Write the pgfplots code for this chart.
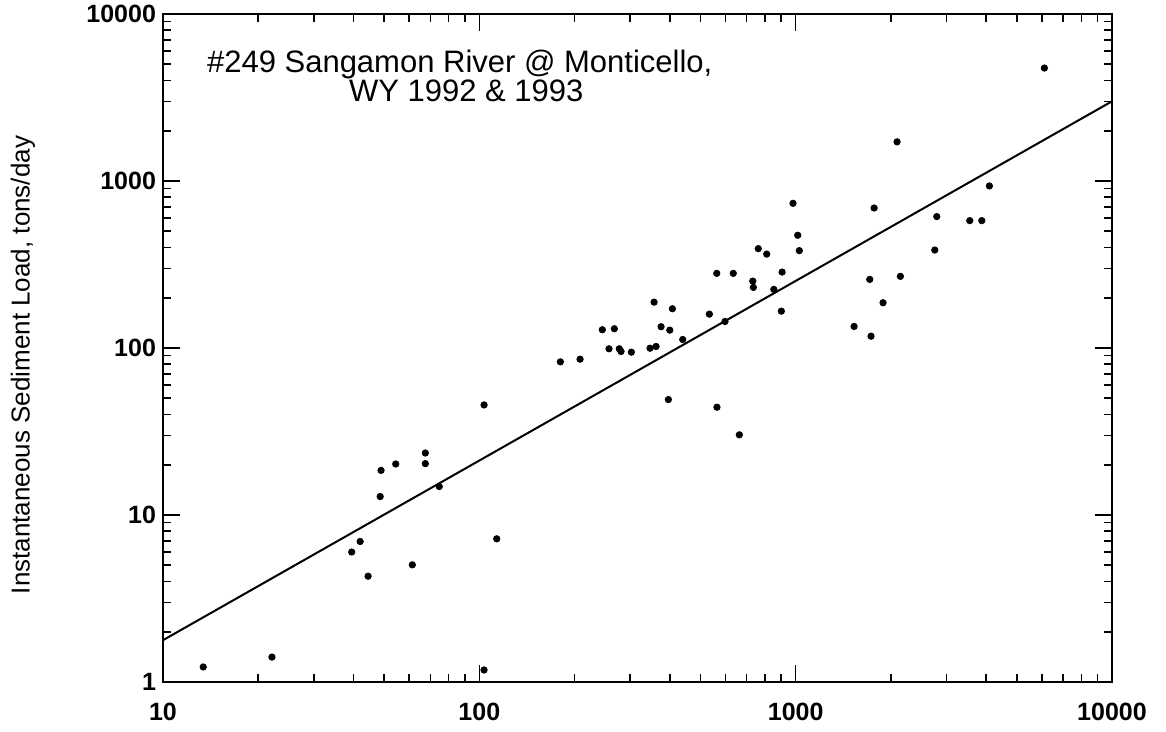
\documentclass[border=0pt]{standalone}
\usepackage{fontspec}
\setmainfont{Liberation Sans}
\usepackage{pgfplots}
\usepackage{pgfplotstable}
\pgfplotsset{compat=1.18}

% discharge (x) vs. instantaneous sediment load (y)
\pgfplotstableread{
x y
13.4 1.23
22.1 1.41
39.5 6.0
42.0 6.94
44.5 4.30
48.6 12.9
48.9 18.5
54.4 20.2
61.4 5.03
67.5 23.5
67.5 20.3
74.7 14.8
103.5 45.6
103.5 1.18
113.5 7.20
180.4 82.6
208.2 85.7
244.8 128.6
257 98.9
267.2 130.4
277 98.9
280.5 95.3
302.4 94.4
346.5 99.7
356.8 188.2
362 102.1
375.4 134.1
395.9 49.1
400 127.9
407.6 171.8
439.5 112.4
533.6 159.5
563 279.8
564 44.2
598 144.1
635 279.8
663.7 30.2
732 251.5
735 230.6
762 393.5
810 365
853 224.3
901 166.2
906 284.8
981 735
1015 473
1027 382.8
1530 134.6
1715 257.5
1731 117.7
1770 689
1889 186.6
2092 1715
2143 268.5
2753 386
2793 612
3552 579
3877 579
4097 934
6113 4745
}\loaddata

\begin{document}
\begin{tikzpicture}
  \begin{loglogaxis}[
      at={(0,0)}, anchor=south west,
      scale only axis,
      width=474.5pt, height=334pt,
      xmin=10, xmax=10000,
      ymin=1, ymax=10000,
      log ticks with fixed point,
      /pgf/number format/1000 sep={},
      /pgf/number format/assume math mode=true,
      tick align=inside,
      major tick length=8.5pt,
      minor tick length=4pt,
      every tick/.style={black, line width=0.8pt},
      axis line style={line width=1pt},
      tick label style={font=\fontsize{12.5}{14}\selectfont\bfseries},
      xticklabel style={yshift=-7pt},
      ylabel={Instantaneous Sediment Load, tons/day},
      ylabel style={at={(axis description cs:-0.1475,0.4746)}, anchor=center,
        font=\fontsize{13}{15}\selectfont},
    ]

    \addplot[black, line width=1pt] coordinates {(10,1.78) (10000,3000)};

    \addplot[only marks, mark=*, mark size=1.6pt, black] table {\loaddata};

    \node[anchor=base west, font=\fontsize{15.5}{18}\selectfont]
      at (axis description cs:0.039,0.9117) {\#249 Sangamon River @ Monticello,};
    \node[anchor=base west, font=\fontsize{15.5}{18}\selectfont]
      at (axis description cs:0.1886,0.8683) {WY 1992 \& 1993};

  \end{loglogaxis}
  \pgfresetboundingbox
  \useasboundingbox (-81.5pt,-25pt) rectangle (501.5pt,341pt);
\end{tikzpicture}
\end{document}
